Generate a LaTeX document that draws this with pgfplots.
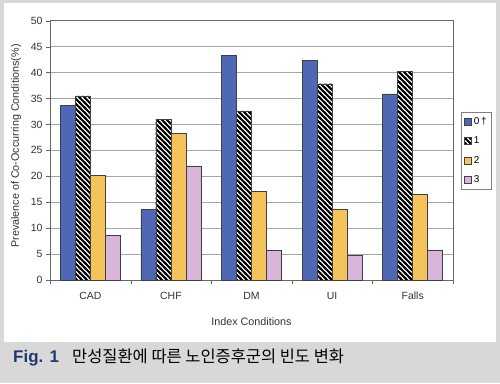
\documentclass[border=0pt]{standalone}
\usepackage{pgfplots}
\pgfplotsset{compat=1.18}
\usepackage{fontspec}
\setmainfont{Liberation Sans}
\newfontfamily\kr{Noto Sans CJK KR}
\usetikzlibrary{patterns}
\pgfdeclarepatternformonly{thickNW}{\pgfpoint{-1bp}{-1bp}}{\pgfpoint{6bp}{6bp}}{\pgfpoint{5bp}{5bp}}{%
  \pgfsetlinewidth{1.9bp}%
  \pgfpathmoveto{\pgfpoint{-1bp}{6bp}}\pgfpathlineto{\pgfpoint{6bp}{-1bp}}%
  \pgfpathmoveto{\pgfpoint{-1bp}{1bp}}\pgfpathlineto{\pgfpoint{1bp}{-1bp}}%
  \pgfpathmoveto{\pgfpoint{4bp}{6bp}}\pgfpathlineto{\pgfpoint{6bp}{4bp}}%
  \pgfusepath{stroke}}
\definecolor{bgray}{HTML}{D8D8D8}
\definecolor{navy}{HTML}{1E3A70}
\definecolor{cblue}{HTML}{4F68B6}
\definecolor{cyellow}{HTML}{F5C35C}
\definecolor{cpink}{HTML}{D8B5D8}
\definecolor{txt}{HTML}{333333}
\pgfplotstableread{
x s0 s1 s2 s3
0 33.7 35.5 20.2 8.6
1 13.6 31.0 28.3 22.0
2 43.3 32.6 17.1 5.7
3 42.4 37.8 13.7 4.8
4 35.9 40.2 16.5 5.8
}\datatable
\begin{document}
\begin{tikzpicture}[x=1bp,y=1bp]
\fill[bgray] (0,0) rectangle (500,383);
\fill[white] (4,41.5) rectangle (496,380);
\path[use as bounding box] (0,0) rectangle (500,383);
\node[anchor=base west, font=\bfseries\fontsize{17}{17}\selectfont, text=navy, inner sep=0] at (13,21) {Fig. 1};
\node[anchor=base west, font=\kr\fontsize{16.5}{16.5}\selectfont, text=black, inner sep=0] at (72,21) {만성질환에 따른 노인증후군의 빈도 변화};
\begin{axis}[
  at={(50bp,103bp)}, anchor=south west,
  scale only axis, width=403bp, height=259.3bp,
  ybar=0pt, bar width=15bp,
  xmin=-0.5, xmax=4.5, ymin=0, ymax=50,
  xtick={0,1,2,3,4},
  xticklabels={CAD,CHF,DM,UI,Falls},
  major x tick style={draw=none},
  minor xtick={-0.5,0.5,1.5,2.5,3.5,4.5},
  minor x tick style={draw=gray!80!black},
  minor tick length=4bp,
  ytick={0,5,...,50},
  xtick pos=bottom, ytick pos=left,
  tick align=outside, major tick length=4bp,
  ymajorgrids, grid style={draw=gray!70, line width=0.6bp},
  axis line style={draw=gray!80!black, line width=0.6bp},
  y tick style={draw=gray!80!black},
  tick label style={font=\fontsize{10.5}{10.5}\selectfont, text=txt},
  xticklabel style={text height=8bp, text depth=0bp, yshift=-4bp},
  /pgf/number format/assume math mode=true,
  xlabel={Index Conditions},
  ylabel={Prevalence of Co-Occurring Conditions(\%)},
  label style={font=\fontsize{10.8}{10.8}\selectfont, text=txt},
  xlabel style={at={(axis description cs:0.5,0)}, anchor=base, yshift=-45bp},
  ylabel style={at={(axis description cs:-0.084,0.517)}, anchor=center},
  legend style={at={(rel axis cs:1.0199,0.648)}, anchor=north west,
    draw=gray, fill=white, font=\fontsize{10}{10}\selectfont,
    row sep=7bp, inner sep=3bp, cells={anchor=west}},
  legend image code/.code={\draw[#1] (0bp,-3.5bp) rectangle (7bp,3.5bp);},
  every axis plot/.append style={draw=black!75, line width=0.6bp},
]
\addplot[fill=cblue] table[x=x,y=s0]{\datatable};
\addplot[fill=white, postaction={pattern=thickNW}] table[x=x,y=s1]{\datatable};
\addplot[fill=cyellow] table[x=x,y=s2]{\datatable};
\addplot[fill=cpink] table[x=x,y=s3]{\datatable};
\legend{0\,†,1,2,3}
\end{axis}
\end{tikzpicture}
\end{document}
